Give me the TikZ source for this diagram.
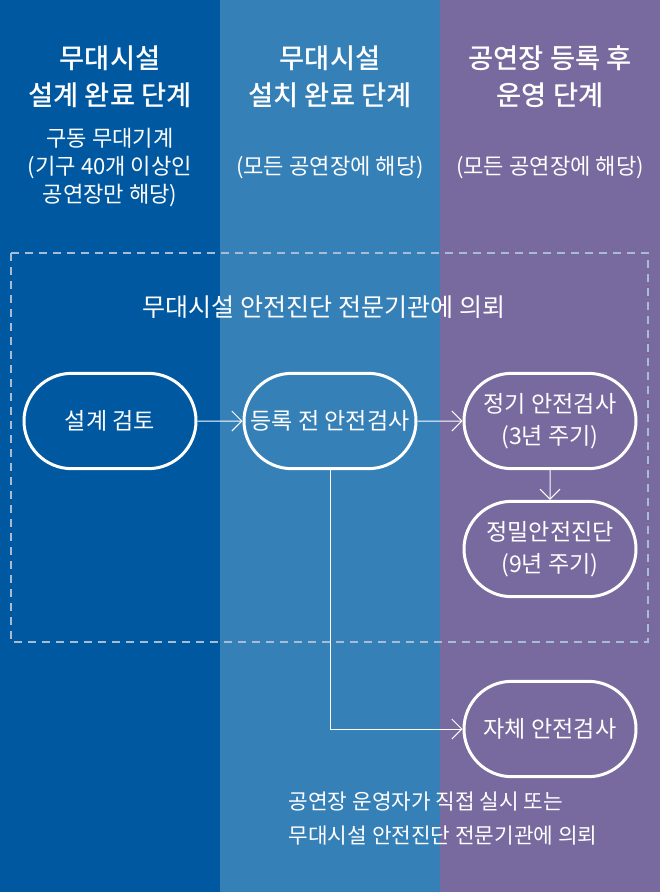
\documentclass[tikz,border=0pt]{standalone}
\usepackage{fontspec}
\setmainfont{Noto Sans CJK KR}
\newfontfamily\headfont{Noto Sans CJK KR Medium}
\usetikzlibrary{arrows.meta,positioning,shapes.misc}

\definecolor{designblue}{HTML}{0059A0}
\definecolor{installblue}{HTML}{3680B8}
\definecolor{operpurple}{HTML}{78699E}
\definecolor{dashgray}{HTML}{A8BCD6}

\newcommand{\stagecolumns}{
  \fill [designblue] (0,0) rectangle (220,892);
  \fill [installblue] (220,0) rectangle (440,892);
  \fill [operpurple] (440,0) rectangle (660,892);
}

\begin{document}
\begin{tikzpicture}[x=0.75pt,y=-0.75pt,
    stage/.style={rounded rectangle,draw=white,line width=2.25pt,
      minimum width=129pt,minimum height=71.5pt,inner sep=0pt,
      text=white,align=center,font=\fontsize{17.3}{24}\selectfont},
    heading/.style={text=white,align=center,
      font=\headfont\fontsize{20.5}{27.75}\selectfont},
    note/.style={text=white,align=center,
      font=\fontsize{16.6}{21}\selectfont},
    flow/.style={draw=white,line width=0.75pt,
      -{Straight Barb[length=7.5pt,width=15pt]}}]
    \stagecolumns
    \useasboundingbox (0,0) rectangle (660,892);

    \node [heading] (designhead) at (110,77) {무대시설\\설계 완료 단계};
    \node [heading] (installhead) at (330,77) {무대시설\\설치 완료 단계};
    \node [heading] (operhead) at (550,77) {공연장 등록 후\\운영 단계};

    \node [note] (designnote) at (110,168)
      {구동 무대기계\\(기구 40개 이상인\\공연장만 해당)};
    \node [note] (installnote) at (330,168) {(모든 공연장에 해당)};
    \node [note] (opernote) at (550,168) {(모든 공연장에 해당)};

    \coordinate (frameNW) at (11,253);
    \coordinate (frameSE) at (648,642);
    \draw [dashgray,line width=1.5pt,dash pattern=on 6pt off 4.5pt]
      (frameNW) rectangle (frameSE);

    \node [text=white,font=\fontsize{18.8}{24}\selectfont]
      (agency) at (324,307) {무대시설 안전진단 전문기관에 의뢰};

    \node [stage] (review) at (110,421) {설계 검토};
    \node [stage] (preinsp) at (330,421) {등록 전 안전검사};
    \node [stage] (regular) at (550,421) {정기 안전검사\\(3년 주기)};
    \node [stage] (precise) at (550,549) {정밀안전진단\\(9년 주기)};
    \node [stage] (selfinsp) at (550,729) {자체 안전검사};

    \draw [flow] (review) -- (preinsp);
    \draw [flow] (preinsp) -- (regular);
    \draw [flow] (regular) -- (precise);
    \draw [flow] (preinsp.south) |- (selfinsp.west);

    \node [anchor=west,text=white,align=left,
      font=\fontsize{16}{25.5}\selectfont] (operator) at (284,819)
      {공연장 운영자가 직접 실시 또는\\무대시설 안전진단 전문기관에 의뢰};
  \end{tikzpicture}
\end{document}
